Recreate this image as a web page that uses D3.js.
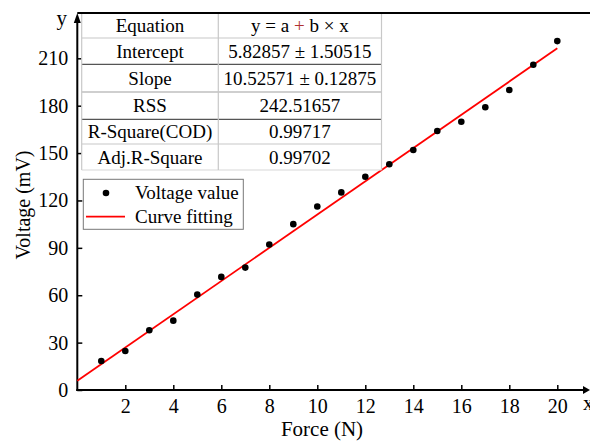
<!DOCTYPE html>
<html>
<head>
<meta charset="utf-8">
<script src="https://cdn.jsdelivr.net/npm/d3@7"></script>
<style>
  html, body { margin: 0; padding: 0; background: #fff; }
  svg { display: block; }
  text { font-family: "Liberation Serif", "Times New Roman", serif; fill: #000; }
</style>
</head>
<body>
<svg id="chart" width="590" height="441"></svg>
<script>
// ---- data ----
const forceN = [1, 2, 3, 4, 5, 6, 7, 8, 9, 10, 11, 12, 13, 14, 15, 16, 17, 18, 19, 20];
const voltage = [18.4, 24.7, 37.8, 43.9, 60.4, 71.6, 77.5, 92.1, 105.0, 116.2, 125.1, 135.0, 142.9, 151.9, 164.0, 169.8, 179.0, 189.9, 205.9, 220.9];
const fitIntercept = 5.82857;
const fitSlope = 10.52571;
const fitX = [0, 20];
const xTicks = [2, 4, 6, 8, 10, 12, 14, 16, 18, 20];
const yTicks = [0, 30, 60, 90, 120, 150, 180, 210];
const tableLabels = ["Equation", "Intercept", "Slope", "RSS", "R-Square(COD)", "Adj.R-Square"];
const tableValues = ["y = a + b × x", "5.82857 ± 1.50515", "10.52571 ± 0.12875", "242.51657", "0.99717", "0.99702"];
const legendLabels = ["Voltage value", "Curve fitting"];

// ---- layout ----
const svg = d3.select("#chart");
const x0 = 77.3, xEnd = 583, plotTop = 13, y0 = 390;
const x = d3.scaleLinear().domain([0, 20]).range([x0, 557.3]);
const y = d3.scaleLinear().domain([0, 210]).range([y0, 58.3]);

// x axis
const xAxis = d3.axisBottom(x).tickValues(xTicks).tickSizeInner(-5).tickSizeOuter(0).tickPadding(9);
const gx = svg.append("g").attr("transform", `translate(0,${y0})`).call(xAxis);
gx.select(".domain").remove();
gx.selectAll(".tick line").attr("stroke", "#000").attr("stroke-width", 1.5);
gx.selectAll(".tick text").style("font-size", "20px").style("font-family", '"Liberation Serif", serif');

// y axis
const yAxis = d3.axisLeft(y).tickValues(yTicks).tickSizeInner(-5).tickSizeOuter(0).tickPadding(9);
const gy = svg.append("g").attr("transform", `translate(${x0},0)`).call(yAxis);
gy.select(".domain").remove();
gy.selectAll(".tick line").attr("stroke", "#000").attr("stroke-width", 1.5);
gy.selectAll(".tick text").style("font-size", "20px").style("font-family", '"Liberation Serif", serif');

// axis lines
svg.append("line").attr("x1", x0 - 1).attr("x2", xEnd).attr("y1", y0).attr("y2", y0)
  .attr("stroke", "#000").attr("stroke-width", 2);
svg.append("line").attr("x1", x0).attr("x2", x0).attr("y1", y0 + 1).attr("y2", plotTop + 8)
  .attr("stroke", "#000").attr("stroke-width", 2);
svg.append("line").attr("x1", x0).attr("x2", 590).attr("y1", plotTop).attr("y2", plotTop)
  .attr("stroke", "#000").attr("stroke-width", 2);
// arrows
svg.append("path").attr("d", `M${xEnd},${y0 - 4} L590,${y0} L${xEnd},${y0 + 4} Z`).attr("fill", "#000");
svg.append("path").attr("d", `M${x0 - 3.5},${plotTop + 10} L${x0},${plotTop} L${x0 + 3.5},${plotTop + 10} Z`).attr("fill", "#000");
svg.append("text").attr("x", 67).attr("y", 25).attr("text-anchor", "end").style("font-size", "21px").text("y");
svg.append("text").attr("x", 583).attr("y", 410).style("font-size", "21px").text("x");

// axis titles
svg.append("text").attr("x", 322).attr("y", 436).attr("text-anchor", "middle").style("font-size", "21px").text("Force (N)");
svg.append("text").attr("transform", "translate(30,205) rotate(-90)").attr("text-anchor", "middle").style("font-size", "20px").text("Voltage (mV)");

// fit line
const line = d3.line().x(d => x(d)).y(d => y(fitIntercept + fitSlope * d));
svg.append("path").datum(fitX).attr("d", line).attr("fill", "none").attr("stroke", "#ff0000").attr("stroke-width", 1.8);

// points
svg.append("g").selectAll("circle").data(forceN).join("circle")
  .attr("cx", d => x(d)).attr("cy", (d, i) => y(voltage[i])).attr("r", 3.3).attr("fill", "#000");

// ---- table ----
const tx = [81.7, 218.3, 381.5];
const ty = [13, 38, 64.3, 92, 119.3, 144, 170];
const hColors = [null, "#c8c8c8", "#555", "#a0a0a0", "#555", "#c8c8c8", "#d8d8d8"];
const tbl = svg.append("g");
tbl.append("rect").attr("x", tx[0]).attr("y", ty[0] + 1).attr("width", tx[2] - tx[0]).attr("height", ty[6] - ty[0] - 1).attr("fill", "#fff");
for (let i = 1; i < ty.length; i++) {
  tbl.append("line").attr("x1", tx[0]).attr("x2", tx[2]).attr("y1", ty[i]).attr("y2", ty[i])
    .attr("stroke", hColors[i]).attr("stroke-width", 1.2);
}
tx.forEach(v => tbl.append("line").attr("x1", v).attr("x2", v).attr("y1", ty[0] + 1).attr("y2", ty[6])
  .attr("stroke", "#c8c8c8").attr("stroke-width", 1.2));
tableLabels.forEach((lab, i) => {
  const cy = (ty[i] + ty[i + 1]) / 2 + 6.5;
  tbl.append("text").attr("x", (tx[0] + tx[1]) / 2).attr("y", cy).attr("text-anchor", "middle").style("font-size", "19px").text(lab);
  const t = tbl.append("text").attr("x", (tx[1] + tx[2]) / 2).attr("y", cy).attr("text-anchor", "middle").style("font-size", "19px");
  if (i === 0) {
    const parts = tableValues[0].split("+");
    t.append("tspan").text(parts[0]);
    t.append("tspan").style("fill", "#b03030").text("+");
    t.append("tspan").text(parts[1]);
  } else {
    t.text(tableValues[i]);
  }
});

// ---- legend ----
const lg = svg.append("g");
lg.append("rect").attr("x", 83.3).attr("y", 179.3).attr("width", 160).attr("height", 50)
  .attr("fill", "#fff").attr("stroke", "#777").attr("stroke-width", 1);
lg.append("circle").attr("cx", 106).attr("cy", 193).attr("r", 3.3).attr("fill", "#000");
lg.append("line").attr("x1", 86).attr("x2", 125).attr("y1", 216.7).attr("y2", 216.7).attr("stroke", "#ff0000").attr("stroke-width", 1.8);
lg.append("text").attr("x", 135).attr("y", 199).style("font-size", "19px").text(legendLabels[0]);
lg.append("text").attr("x", 135).attr("y", 223).style("font-size", "19px").text(legendLabels[1]);
</script>
</body>
</html>
